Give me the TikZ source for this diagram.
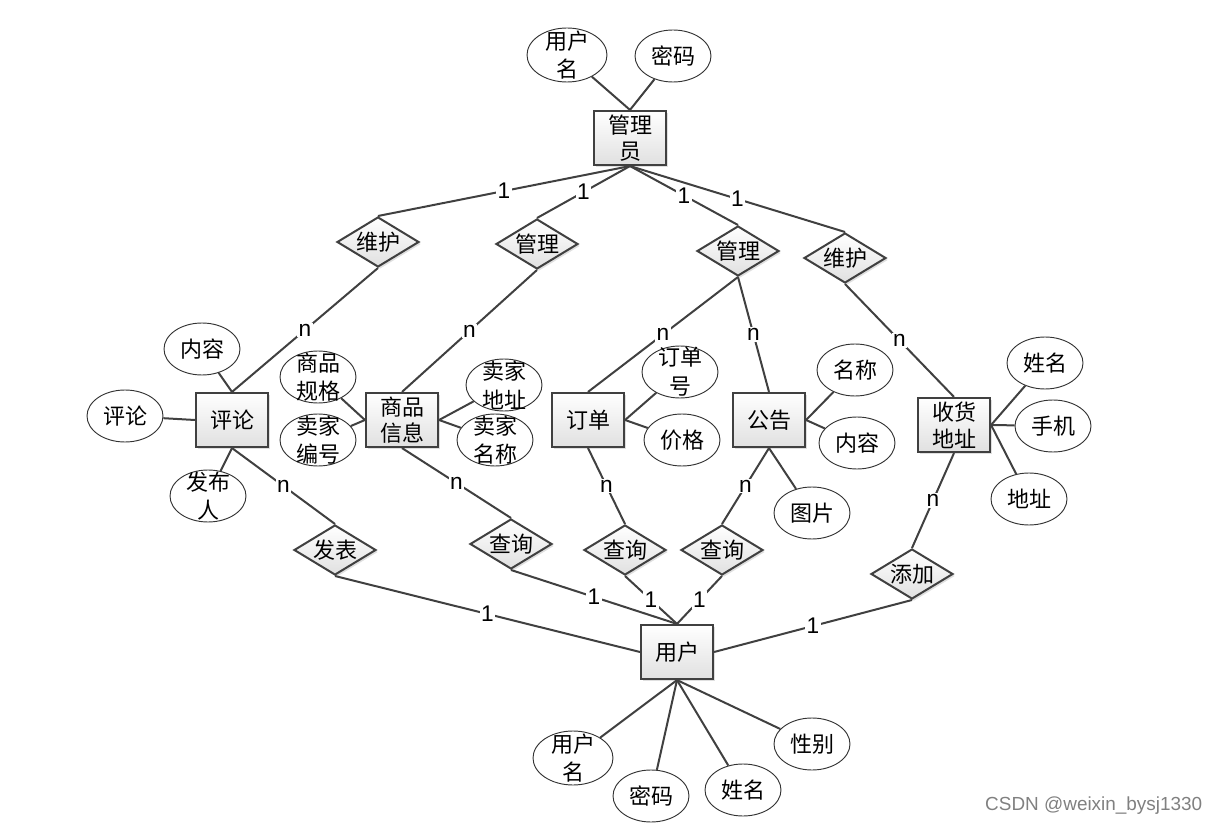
\documentclass[tikz,border=0pt]{standalone}
\usepackage{fontspec}
\setmainfont{Liberation Sans}
\newfontfamily\cjk{Noto Sans CJK SC}
\usetikzlibrary{shapes.geometric,shadows}
\begin{document}
\begin{tikzpicture}[x=0.75pt,y=-0.75pt,
  conn/.style={draw=black!75, line width=1.5pt},
  ent/.style={rectangle, draw=black!75, line width=1.6pt, top color=white, bottom color=black!12,
    minimum width=54pt, minimum height=40.5pt, inner sep=0pt, align=center,
    font=\cjk\fontsize{16.5}{20}\selectfont,
    drop shadow={shadow xshift=1.5pt, shadow yshift=-1.5pt, opacity=0.25}},
  rel/.style={diamond, draw=black!75, line width=1.5pt, top color=white, bottom color=black!12,
    minimum width=61.5pt, minimum height=37.5pt, inner sep=0pt, aspect=1.7,
    font=\cjk\fontsize{16.5}{20}\selectfont,
    drop shadow={shadow xshift=1.5pt, shadow yshift=-1.5pt, opacity=0.25}},
  attrib/.style={ellipse, draw=black!80, line width=0.7pt, fill=white,
    minimum width=57pt, minimum height=39pt, inner sep=0pt},
  atxt/.style={font=\cjk\fontsize{16.5}{21.5}\selectfont, align=center, inner sep=0pt},
  lab/.style={fill=white, inner sep=1pt, font=\fontsize{17}{17}\selectfont, pos=0.5}
]
\useasboundingbox (0,0) rectangle (1222,827);

% entities
\node[ent] (adm) at (630,138) {管理\\员};
\node[ent] (pl) at (232,420) {评论};
\node[ent] (sp) at (402,420) {商品\\信息};
\node[ent] (dd) at (588,420) {订单};
\node[ent] (gg) at (769,420) {公告};
\node[ent] (sh) at (954,425) {收货\\地址};
\node[ent] (yh) at (677,652) {用户};

% relationships
\node[rel] (r1) at (378,242) {维护};
\node[rel] (r2) at (537,244) {管理};
\node[rel] (r3) at (738,251) {管理};
\node[rel] (r4) at (845,258) {维护};
\node[rel] (fb) at (335,550) {发表};
\node[rel] (q1) at (511,544) {查询};
\node[rel] (q2) at (625,550) {查询};
\node[rel] (q3) at (722,550) {查询};
\node[rel] (tj) at (912,574) {添加};

% attributes
\node[attrib, minimum width=60pt, minimum height=40.5pt] (a1) at (567,55) {};
\node[atxt] (a1t) at (a1.center) {用户\\名};
\node[attrib] (a2) at (673,56) {};
\node[atxt] (a2t) at (a2.center) {密码};

\node[attrib] (b1) at (202,349) {};
\node[atxt] (b1t) at (b1.center) {内容};
\node[attrib] (b2) at (125,416) {};
\node[atxt] (b2t) at (b2.center) {评论};
\node[attrib] (b3) at (208,496) {};
\node[atxt] (b3t) at (b3.center) {发布\\人};

\node[attrib] (c1) at (318,377) {};
\node[atxt] (c1t) at (c1.center) {商品\\规格};
\node[attrib] (c2) at (318,440) {};
\node[atxt] (c2t) at (c2.center) {卖家\\编号};
\node[attrib] (c3) at (504,385) {};
\node[atxt] (c3t) at (c3.center) {卖家\\地址};
\node[attrib] (c4) at (495,440) {};
\node[atxt] (c4t) at (c4.center) {卖家\\名称};

\node[attrib] (d1) at (680,372) {};
\node[atxt] (d1t) at (d1.center) {订单\\号};
\node[attrib] (d2) at (682,440) {};
\node[atxt] (d2t) at (d2.center) {价格};

\node[attrib] (e1) at (855,370) {};
\node[atxt] (e1t) at (e1.center) {名称};
\node[attrib] (e2) at (857,443) {};
\node[atxt] (e2t) at (e2.center) {内容};
\node[attrib] (e3) at (812,513) {};
\node[atxt] (e3t) at (e3.center) {图片};

\node[attrib] (f1) at (1045,363) {};
\node[atxt] (f1t) at (f1.center) {姓名};
\node[attrib] (f2) at (1053,426) {};
\node[atxt] (f2t) at (f2.center) {手机};
\node[attrib] (f3) at (1029,499) {};
\node[atxt] (f3t) at (f3.center) {地址};

\node[attrib, minimum width=60pt, minimum height=40.5pt] (g1) at (573,758) {};
\node[atxt] (g1t) at (g1.center) {用户\\名};
\node[attrib] (g2) at (651,796) {};
\node[atxt] (g2t) at (g2.center) {密码};
\node[attrib] (g3) at (743,790) {};
\node[atxt] (g3t) at (g3.center) {姓名};
\node[attrib] (g4) at (812,744) {};
\node[atxt] (g4t) at (g4.center) {性别};

% attribute connectors
\draw[conn] (adm.north) -- (a1);
\draw[conn] (adm.north) -- (a2);
\draw[conn] (pl.north) -- (b1);
\draw[conn] (pl.west) -- (b2);
\draw[conn] (pl.south) -- (b3);
\draw[conn] (sp.west) -- (c1);
\draw[conn] (sp.west) -- (c2);
\draw[conn] (sp.east) -- (c3);
\draw[conn] (sp.east) -- (c4);
\draw[conn] (dd.east) -- (d1);
\draw[conn] (dd.east) -- (d2);
\draw[conn] (gg.east) -- (e1);
\draw[conn] (gg.east) -- (e2);
\draw[conn] (gg.south) -- (e3);
\draw[conn] (sh.east) -- (f1);
\draw[conn] (sh.east) -- (f2);
\draw[conn] (sh.east) -- (f3);
\draw[conn] (yh.south) -- (g1);
\draw[conn] (yh.south) -- (g2);
\draw[conn] (yh.south) -- (g3);
\draw[conn] (yh.south) -- (g4);

% relationship connectors
\draw[conn] (adm.south) -- node[lab]{1} (r1.north);
\draw[conn] (adm.south) -- node[lab]{1} (r2.north);
\draw[conn] (adm.south) -- node[lab]{1} (r3.north);
\draw[conn] (adm.south) -- node[lab]{1} (r4.north);
\draw[conn] (r1.south) -- node[lab]{n} (pl.north);
\draw[conn] (r2.south) -- node[lab]{n} (sp.north);
\draw[conn] (r3.south) -- node[lab]{n} (dd.north);
\draw[conn] (r3.south) -- node[lab]{n} (gg.north);
\draw[conn] (r4.south) -- node[lab]{n} (sh.north);

\draw[conn] (pl.south) -- node[lab]{n} (fb.north);
\draw[conn] (fb.south) -- node[lab]{1} (yh.west);
\draw[conn] (sp.south) -- node[lab]{n} (q1.north);
\draw[conn] (q1.south) -- node[lab]{1} (yh.north);
\draw[conn] (dd.south) -- node[lab]{n} (q2.north);
\draw[conn] (q2.south) -- node[lab]{1} (yh.north);
\draw[conn] (gg.south) -- node[lab]{n} (q3.north);
\draw[conn] (q3.south) -- node[lab]{1} (yh.north);
\draw[conn] (sh.south) -- node[lab]{n} (tj.north);
\draw[conn] (tj.south) -- node[lab]{1} (yh.east);

% watermark
\node[text=black!50, font=\fontsize{14.2}{14.2}\selectfont, anchor=east] (wm) at (1207,806) {CSDN @weixin\_bysj1330};
\end{tikzpicture}
\end{document}
